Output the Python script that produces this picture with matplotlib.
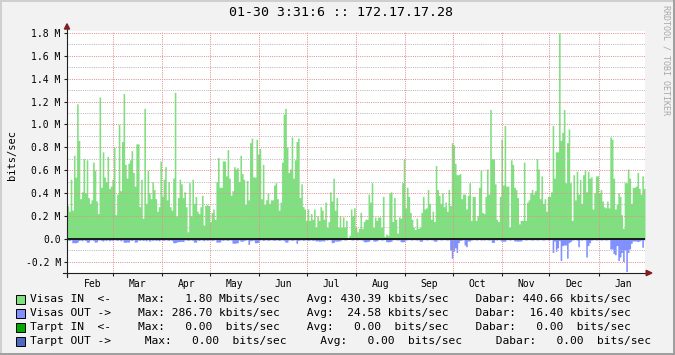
import numpy as np
import pandas as pd
import matplotlib
matplotlib.use("Agg")
import matplotlib.pyplot as plt
from matplotlib.patches import Polygon, Rectangle
from matplotlib.lines import Line2D
import matplotlib.dates as mdates

plt.rcParams['font.family'] = 'DejaVu Sans Mono'

# time span of the graph (one year, daily averages)
start = pd.Timestamp('2013-01-31 03:31')
end = pd.Timestamp('2014-01-30 03:31')

# incoming traffic, Mbits/sec
visas_in = [
    0.29, 0.24, 0.52, 0.25, 0.73, 0.54, 1.18, 0.86, 0.35, 0.41, 0.70, 0.40, 0.69, 0.36, 0.31, 0.34,
    0.67, 0.60, 0.33, 0.22, 1.24, 0.45, 0.76, 0.54, 0.50, 0.72, 0.44, 0.46, 0.52, 0.80, 0.21, 0.39,
    1.00, 0.42, 0.85, 1.27, 0.65, 0.53, 0.66, 0.69, 0.77, 0.58, 0.46, 0.83, 0.83, 0.28, 0.52, 0.18,
    1.14, 0.31, 0.60,
    0.40, 0.35, 0.50, 0.43, 0.35, 0.24, 0.28, 0.68, 0.37, 0.52, 0.63, 0.34, 0.50, 0.28, 0.25, 0.53,
    1.28, 0.20, 0.36, 0.52, 0.48, 0.36, 0.41, 0.28, 0.06, 0.49, 0.20, 0.52, 0.31, 0.37, 0.24, 0.22,
    0.28, 0.38, 0.12, 0.29, 0.30, 0.29, 0.15, 0.23, 0.26, 0.17, 0.50, 0.71, 0.45, 0.45, 0.68, 0.68,
    0.55, 0.78, 0.53, 0.38,
    0.42, 0.63, 0.61, 0.62, 0.50, 0.73, 0.57, 0.52, 0.30, 0.51, 0.34, 0.84, 0.88, 0.54, 0.54, 0.87,
    0.74, 0.79, 0.35, 0.65, 0.30, 0.34, 0.40, 0.31, 0.34, 0.34, 0.47, 0.49, 0.35, 0.25, 0.32, 0.67,
    1.09, 1.14, 0.80, 0.58, 0.61, 0.89, 0.53, 0.69, 0.85, 0.88, 0.36, 0.48, 0.28, 0.26, 0.16, 0.26,
    0.16, 0.22, 0.17, 0.26,
    0.10, 0.20, 0.16, 0.28, 0.25, 0.17, 0.32, 0.10, 0.15, 0.41, 0.33, 0.53, 0.25, 0.36, 0.10, 0.20,
    0.10, 0.19, 0.10, 0.16, 0.01, 0.03, 0.26, 0.20, 0.27, 0.10, 0.06, 0.09, 0.23, 0.09, 0.15, 0.17,
    0.17, 0.39, 0.32, 0.49, 0.10, 0.19, 0.16, 0.19, 0.19, 0.10, 0.37, 0.02, 0.04, 0.03, 0.40, 0.41,
    0.15, 0.36, 0.17, 0.05,
    0.19, 0.18, 0.49, 0.70, 0.27, 0.45, 0.37, 0.23, 0.17, 0.10, 0.08, 0.18, 0.09, 0.10, 0.23, 0.37,
    0.26, 0.27, 0.43, 0.31, 0.17, 0.24, 0.15, 0.64, 0.43, 0.38, 0.31, 0.40, 0.28, 0.32, 0.24, 0.43,
    0.29, 0.84, 0.82, 0.66, 0.56, 0.56, 0.57, 0.35, 0.39, 0.39, 0.26, 0.38, 0.49, 0.16, 0.37, 0.37,
    0.16, 0.20, 0.45, 0.60,
    0.23, 0.22, 0.37, 0.61, 0.39, 1.13, 0.70, 0.70, 0.48, 0.17, 0.15, 0.37, 0.87, 0.47, 0.99, 0.46,
    0.46, 0.10, 0.69, 0.65, 0.45, 0.43, 0.36, 0.13, 0.16, 0.16, 0.67, 0.16, 0.32, 0.34, 0.40, 0.43,
    0.39, 0.42, 0.70, 0.61, 0.35, 0.55, 0.31, 0.35, 0.24, 0.37, 0.37, 0.41, 0.99, 0.53, 0.76, 0.76,
    1.80, 0.86, 0.93, 1.13,
    0.49, 0.84, 0.96, 0.49, 0.16, 0.56, 0.34, 0.59, 0.39, 0.52, 0.31, 0.56, 0.60, 0.41, 0.59, 0.53,
    0.54, 0.26, 0.40, 0.55, 0.55, 0.40, 0.43, 0.33, 0.28, 0.27, 0.33, 0.27, 0.89, 0.87, 0.53, 0.26,
    0.30, 0.40, 0.37, 0.21, 0.09, 0.49, 0.49, 0.61, 0.53, 0.31, 0.45, 0.45, 0.46, 0.58, 0.44, 0.39,
    0.55, 0.44,
]

# outgoing traffic, kbits/sec (drawn below zero)
visas_out = [
    12, 15, 10, 35, 35, 35, 30, 15, 12, 18, 10, 15, 30, 30, 12, 10, 15, 30, 28, 12, 10, 15, 20, 12,
    15, 10, 18, 12, 15, 10, 12, 15, 10, 18, 12, 30, 32, 28, 30, 12, 15, 10, 30, 28, 12, 15, 10, 15,
    12, 18, 10,
    22, 12, 15, 10, 15, 12, 18, 10, 12, 15, 10, 12, 15, 10, 15, 35, 35, 30, 25, 25, 22, 25, 12, 10,
    15, 12, 10, 15, 30, 30, 12, 15, 10, 12, 18, 10, 15, 12, 10, 15, 12, 10, 30, 30, 28, 12, 15, 10,
    12, 15, 10, 12,
    38, 40, 38, 35, 12, 22, 22, 15, 12, 10, 50, 18, 15, 12, 35, 35, 32, 12, 10, 15, 12, 10, 15, 12,
    10, 12, 15, 10, 12, 15, 12, 10, 15, 30, 30, 12, 10, 15, 12, 10, 40, 15, 12, 10, 15, 12, 10, 15,
    12, 10, 15, 12,
    20, 18, 22, 20, 18, 20, 10, 12, 8, 10, 35, 32, 20, 22, 20, 18, 10, 8, 12, 10, 5, 5, 10, 12,
    8, 10, 12, 8, 10, 12, 25, 28, 25, 22, 10, 8, 20, 22, 18, 10, 8, 12, 10, 8, 25, 28, 25, 22,
    10, 8, 10, 12,
    10, 25, 28, 25, 12, 10, 8, 10, 12, 8, 10, 12, 10, 22, 22, 10, 8, 12, 10, 8, 10, 12, 22, 22,
    10, 8, 12, 10, 8, 10, 12, 10, 100, 170, 110, 80, 120, 35, 15, 12, 10, 55, 70, 20, 20, 12, 10, 8,
    12, 10, 8, 12,
    10, 12, 8, 10, 12, 10, 32, 32, 10, 12, 8, 12, 22, 22, 22, 10, 8, 12, 10, 8, 20, 20, 22, 20,
    20, 10, 8, 12, 10, 8, 10, 12, 10, 8, 12, 10, 8, 10, 12, 10, 8, 12, 10, 8, 120, 20, 110, 80,
    15, 190, 60, 55,
    55, 170, 35, 25, 12, 10, 8, 12, 70, 10, 12, 8, 10, 160, 60, 35, 12, 10, 8, 12, 10, 8, 12, 10,
    8, 12, 10, 8, 90, 90, 130, 140, 60, 190, 160, 120, 200, 100, 287, 120, 90, 40, 20, 20, 20, 25,
    20, 12, 75, 10,
]

months = ['Feb', 'Mar', 'Apr', 'May', 'Jun', 'Jul', 'Aug', 'Sep', 'Oct', 'Nov', 'Dec', 'Jan']
y_major = [-0.2, 0.0, 0.2, 0.4, 0.6, 0.8, 1.0, 1.2, 1.4, 1.6, 1.8]
y_minor = [-0.1, 0.1, 0.3, 0.5, 0.7, 0.9, 1.1, 1.3, 1.5, 1.7]

legend_rows = [
    ('#80E080', 'Visas IN  <-    Max:   1.80 Mbits/sec    Avg: 430.39 kbits/sec    Dabar: 440.66 kbits/sec'),
    ('#8090FF', 'Visas OUT ->    Max: 286.70 kbits/sec    Avg:  24.58 kbits/sec    Dabar:  16.40 kbits/sec'),
    ('#00A800', 'Tarpt IN  <-    Max:   0.00  bits/sec    Avg:   0.00  bits/sec    Dabar:   0.00  bits/sec'),
    ('#5068C0', 'Tarpt OUT ->     Max:   0.00  bits/sec     Avg:   0.00  bits/sec     Dabar:   0.00  bits/sec'),
]

green = '#80E080'
blue = '#8090FF'
grid_c = '#B8B8B8'
mgrid_c = '#E29090'
arrow_c = (0.50, 0.12, 0.12)
axis_c = (0.12, 0.12, 0.12)

W, H = 675, 355
fig = plt.figure(figsize=(W / 100, H / 100), dpi=100, facecolor='#F2F2F2')
ax = fig.add_axes([67 / W, (H - 273) / H, 578 / W, 242 / H])
ax.set_facecolor('white')

edges = mdates.date2num(pd.date_range(start, end, periods=len(visas_in) + 1))
vin = np.array(visas_in) * 1e6
vout = -np.array(visas_out) * 1e3
ax.fill_between(edges, 0, np.append(vin, vin[-1]), step='post', color=green, lw=0, zorder=1)
ax.fill_between(edges, 0, np.append(vout, vout[-1]), step='post', color=blue, lw=0, zorder=1)

dots = (0, (1, 1.2))
for v in y_minor:
    ax.axhline(v * 1e6, color=grid_c, lw=0.72, ls=dots, zorder=2)
for v in y_major:
    ax.axhline(v * 1e6, color=mgrid_c, lw=0.72, ls=dots, zorder=2)
month_starts = mdates.date2num(pd.date_range('2013-03-01', '2014-01-01', freq='MS'))
for m in month_starts:
    ax.axvline(m, color=mgrid_c, lw=0.72, ls=dots, zorder=2)
ax.axhline(0, color='black', lw=1.2, zorder=3)

ax.set_xlim(edges[0], mdates.date2num(end))
ax.set_ylim(-0.3e6, 1.817e6)

ax.set_yticks([v * 1e6 for v in y_major])
ax.set_yticklabels(['0.0' if v == 0 else '%.1f M' % v for v in y_major])
ax.set_xticks(np.append(edges[0], month_starts))
ax.set_xticklabels([])
mid = mdates.date2num(pd.date_range('2013-02-01', '2014-01-01', freq='MS') + pd.Timedelta(days=15.5))
ax.set_xticks(mid, minor=True)
ax.set_xticklabels(months, minor=True)
ax.tick_params(axis='both', which='major', length=2.5, width=0.8, color=axis_c, labelsize=7, pad=2,
               direction='out')
ax.tick_params(axis='x', which='minor', length=0, labelsize=7, pad=4)
for s in ax.spines.values():
    s.set_visible(False)

# axes with rrdtool style arrows
ax.add_line(Line2D([0, 0], [-0.017, 1.01], transform=ax.transAxes, color=axis_c, lw=0.8, clip_on=False, zorder=4))
ax.add_line(Line2D([-0.007, 1.003], [0, 0], transform=ax.transAxes, color=axis_c, lw=0.8, clip_on=False, zorder=4))
ax.add_patch(Polygon([[-0.0045, 1.008], [0.0045, 1.008], [0, 1.03]], closed=True, transform=ax.transAxes,
                     color=arrow_c, clip_on=False, zorder=5))
ax.add_patch(Polygon([[1.002, -0.011], [1.002, 0.011], [1.012, 0]], closed=True, transform=ax.transAxes,
                     color=arrow_c, clip_on=False, zorder=5))

fig.text(341 / W, 1 - 13 / H, '01-30 3:31:6 :: 172.17.17.28', ha='center', va='center', fontsize=9.5)
fig.text(12 / W, 1 - 155 / H, 'bits/sec', rotation=90, ha='center', va='center', fontsize=7.5)
fig.text(666 / W, 1 - 5 / H, 'RRDTOOL / TOBI OETIKER', rotation=270, ha='center', va='top',
         fontsize=6, color='#A8A8A8')

for i, (c, txt) in enumerate(legend_rows):
    yc = 299.5 + 14 * i
    fig.patches.append(Rectangle((15.5 / W, 1 - (yc + 4.5) / H), 9 / W, 9 / H, transform=fig.transFigure,
                                 facecolor=c, edgecolor='black', lw=0.7))
    fig.text(30 / W, 1 - yc / H, txt, ha='left', va='center', fontsize=8.15)

# 3d frame
fig.add_artist(Line2D([0, 1], [1 - 1 / H, 1 - 1 / H], color='#CFCFCF', lw=1.4))
fig.add_artist(Line2D([1 / W, 1 / W], [0, 1], color='#CFCFCF', lw=1.4))
fig.add_artist(Line2D([0, 1], [1 / H, 1 / H], color='#9E9E9E', lw=1.4))
fig.add_artist(Line2D([1 - 1 / W, 1 - 1 / W], [0, 1], color='#9E9E9E', lw=1.4))

fig.savefig('out.png', dpi=100, facecolor=fig.get_facecolor())
